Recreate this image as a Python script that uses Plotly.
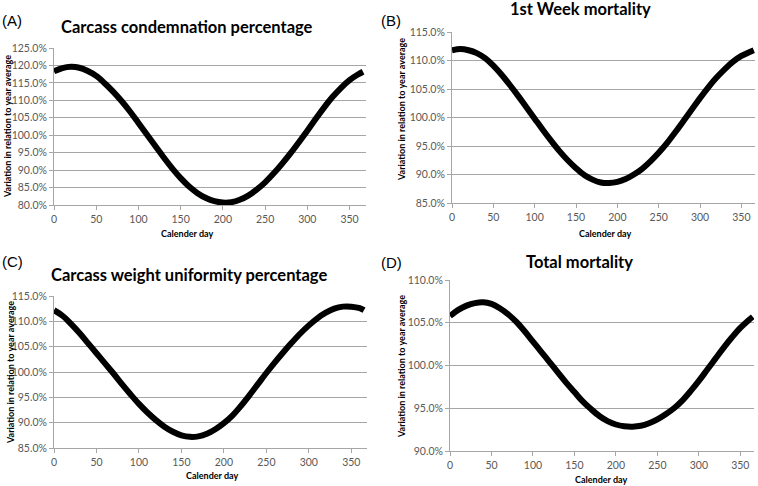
import plotly.graph_objects as go

# values (calendar day -> % of year average)
days_a = [0, 10, 20, 30, 40, 50, 60, 70, 80, 90, 100, 110, 120, 130, 140, 150, 160, 170, 180,
          190, 200, 210, 220, 230, 240, 250, 260, 270, 280, 290, 300, 310, 320, 330, 340, 350, 360, 366]
cond = [118.3, 119.25, 119.6, 119.35, 118.4, 117.0, 114.9, 112.5, 109.8, 106.8, 103.5, 100.2, 96.9,
        93.6, 90.5, 87.7, 85.3, 83.4, 82.0, 81.1, 80.7, 80.8, 81.5, 82.7, 84.4, 86.5, 89.0, 91.8,
        94.8, 98.0, 101.3, 104.7, 108.0, 111.0, 113.6, 115.8, 117.4, 118.2]

days_b = [0, 10, 20, 30, 40, 50, 60, 70, 80, 90, 100, 110, 120, 130, 140, 150, 160, 170, 180,
          190, 200, 210, 220, 230, 240, 250, 260, 270, 280, 290, 300, 310, 320, 330, 340, 350, 360, 365]
week1 = [111.8, 112.0, 111.8, 111.3, 110.4, 109.1, 107.5, 105.7, 103.8, 101.8, 99.8, 97.8, 95.9,
         94.1, 92.5, 91.1, 89.9, 89.1, 88.6, 88.5, 88.7, 89.2, 90.0, 91.0, 92.3, 93.8, 95.5, 97.4,
         99.4, 101.4, 103.4, 105.3, 107.0, 108.5, 109.8, 110.8, 111.5, 111.8]

days_c = [0, 10, 20, 30, 40, 50, 60, 70, 80, 90, 100, 110, 120, 130, 140, 150, 160, 170, 180,
          190, 200, 210, 220, 230, 240, 250, 260, 270, 280, 290, 300, 310, 320, 330, 340, 350, 360, 365]
uniform = [112.2, 111.1, 109.5, 107.7, 105.7, 103.7, 101.7, 99.7, 97.6, 95.6, 93.7, 92.0, 90.5,
           89.2, 88.2, 87.5, 87.2, 87.3, 87.8, 88.7, 89.9, 91.4, 93.3, 95.4, 97.6, 99.8, 101.9,
           103.9, 105.8, 107.6, 109.2, 110.6, 111.7, 112.5, 112.9, 112.9, 112.6, 112.2]

days_d = [0, 10, 20, 30, 40, 50, 60, 70, 80, 90, 100, 110, 120, 130, 140, 150, 160, 170, 180,
          190, 200, 210, 220, 230, 240, 250, 260, 270, 280, 290, 300, 310, 320, 330, 340, 350, 360, 365]
total = [105.8, 106.5, 107.0, 107.3, 107.4, 107.2, 106.7, 106.0, 105.1, 104.0, 102.8, 101.6, 100.4,
         99.2, 98.0, 96.9, 95.8, 94.9, 94.1, 93.5, 93.1, 92.9, 92.85, 92.95, 93.25, 93.7, 94.3, 95.0,
         95.9, 97.0, 98.2, 99.5, 100.8, 102.1, 103.3, 104.4, 105.3, 105.7]

titles = ["Carcass condemnation percentage", "1st Week mortality",
          "Carcass weight uniformity percentage", "Total mortality"]
letters = ["(A)", "(B)", "(C)", "(D)"]
y_ranges = [(80, 125), (85, 115), (85, 115), (90, 110)]

W, H = 758, 486


def px(x, y):
    return x / W, 1 - y / H


# plot boxes in pixels: left, right, top, bottom
boxes = [(54, 366, 48, 205), (452, 755, 32, 203), (54, 367, 296, 448), (450, 754, 280, 451)]
x_max = [369.5, 366.5, 368.5, 366.5]
title_pos = [(187, 27), (580, 9), (189, 275), (579, 262)]
letter_pos = [(12, 20), (391, 20), (12, 261), (391, 262)]
ytitle_pos = [(8, 127), (402, 110), (10, 373), (401, 367)]
xtitle_pos = [(187, 233), (605, 233), (212, 475), (601, 479)]

series = [(days_a, cond), (days_b, week1), (days_c, uniform), (days_d, total)]

fig = go.Figure()
grey = "#a6a6a6"
tick_font = dict(family="Lato, Carlito, sans-serif", size=10.5, color="#595959")
annotations = []

for i, (xs, ys) in enumerate(series):
    n = "" if i == 0 else str(i + 1)
    fig.add_trace(go.Scatter(x=xs, y=ys, mode="lines", line=dict(color="black", width=6, shape="spline"),
                             xaxis="x" + n, yaxis="y" + n, showlegend=False))
    l, r, t, b = boxes[i]
    fig.update_layout(**{
        "xaxis" + n: dict(domain=[l / W, r / W], anchor="y" + n, range=[0, x_max[i]], automargin=False,
                          tickvals=[0, 50, 100, 150, 200, 250, 300, 350], showgrid=False, zeroline=False,
                          showline=True, linecolor=grey, ticks="outside", ticklen=4, tickcolor=grey,
                          tickfont=tick_font),
        "yaxis" + n: dict(domain=[1 - b / H, 1 - t / H], anchor="x" + n, range=list(y_ranges[i]),
                          automargin=False, dtick=5, tickformat=".1f", ticksuffix="%", showgrid=True,
                          gridcolor=grey, gridwidth=1, zeroline=False, showline=True, linecolor=grey,
                          ticks="outside", ticklen=4, tickcolor=grey, tickfont=tick_font),
    })
    tx, ty = px(*title_pos[i])
    annotations.append(dict(text="<b>" + titles[i] + "</b>", x=tx, y=ty, xref="paper", yref="paper",
                            showarrow=False, xanchor="center", yanchor="middle",
                            font=dict(family="Lato, sans-serif", size=16.5, color="black")))
    lx, ly = px(*letter_pos[i])
    annotations.append(dict(text=letters[i], x=lx, y=ly, xref="paper", yref="paper", showarrow=False,
                            xanchor="center", yanchor="middle",
                            font=dict(family="Liberation Sans, Arial, sans-serif", size=15, color="black")))
    ax, ay = px(*ytitle_pos[i])
    annotations.append(dict(text="<b>Variation in relation to year average</b>", x=ax, y=ay, xref="paper",
                            yref="paper", showarrow=False, textangle=-90, xanchor="center", yanchor="middle",
                            font=dict(family="Lato, sans-serif", size=9, color="black")))
    bx, by = px(*xtitle_pos[i])
    annotations.append(dict(text="<b>Calender day</b>", x=bx, y=by, xref="paper", yref="paper",
                            showarrow=False, xanchor="center", yanchor="middle",
                            font=dict(family="Lato, sans-serif", size=9, color="black")))

fig.update_layout(width=W, height=H, margin=dict(l=0, r=0, t=0, b=0), paper_bgcolor="white",
                  plot_bgcolor="white", annotations=annotations)

# the page body has a default 8px margin; drop it so the figure fills the window
fig.write_html("out.html", config={"displayModeBar": False},
               post_script="document.body.style.margin='0';")
